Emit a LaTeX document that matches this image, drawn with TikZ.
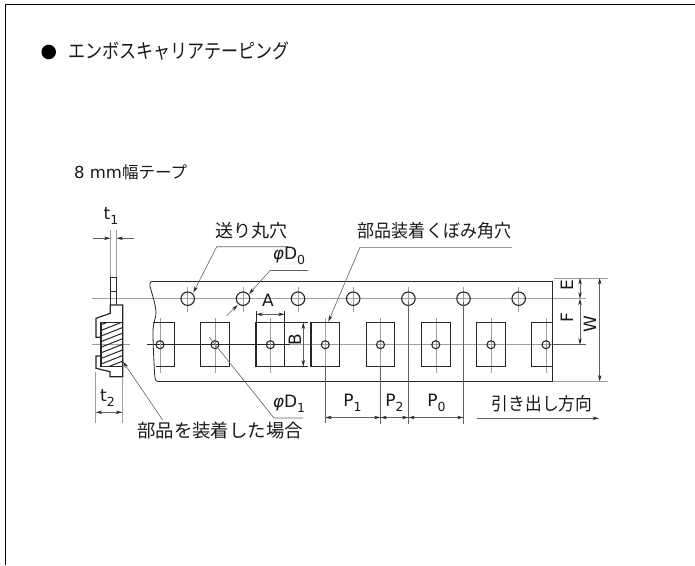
\documentclass[tikz,border=0pt]{standalone}
\usepackage{fontspec}
\setmainfont{DejaVu Sans}
\newfontfamily\cjk{Noto Sans CJK JP}
\usetikzlibrary{arrows.meta}
\definecolor{grayline}{gray}{0.62}
\definecolor{leader}{gray}{0.38}
\tikzset{
  x=1pt,y=-1pt,
  outline/.style={line width=1.2pt,draw=black!85},
  thinblack/.style={line width=0.8pt,draw=black!85},
  cline/.style={line width=0.9pt,draw=grayline},
  vline/.style={line width=0.6pt,draw=grayline},
  lead/.style={line width=0.6pt,draw=leader},
  leadarrow/.style={lead,-{Stealth[length=6.5pt,width=3.4pt,color=black!85]}},
  dim/.style={line width=0.6pt,draw=leader,{Stealth[length=6.5pt,width=3.4pt,color=black!85]}-{Stealth[length=6.5pt,width=3.4pt,color=black!85]}},
  dimone/.style={line width=0.6pt,draw=leader,-{Stealth[length=6.5pt,width=3.4pt,color=black!85]}},
  jp/.style={inner sep=0pt,font=\fontsize{#1}{#1}\selectfont\cjk,text=black!90},
  jp/.default=17,
  sym/.style={inner sep=0pt,font=\fontsize{17}{17}\selectfont,text=black!90},
  hole/.style={circle,draw=black!85,line width=1.1pt,minimum size=#1,inner sep=0pt,fill=none}
}
\newcommand{\sbs}[2]{#1\raisebox{-0.32em}{\fontsize{12.5}{12.5}\selectfont #2}}
\begin{document}
\begin{tikzpicture}
\useasboundingbox (0,0) rectangle (695,565);
\draw[line width=1.2pt,black] (5.3,565) -- (5.3,4.3) -- (695,4.3);

\node[inner sep=0pt,minimum size=14.6pt,circle,fill=black] (bullet) at (48.7,52) {};
\node[jp=20,anchor=west,xscale=0.85] (title) at (68.5,51) {エンボスキャリアテーピング};
\node[anchor=west,inner sep=0pt,font=\fontsize{16.5}{16.5}\selectfont,text=black!90] (sub) at (74,172) {8 mm{\cjk 幅テープ}};

% centre lines
\coordinate (cl1) at (91.5,298.7); \coordinate (cr1) at (585.7,298.7);
\draw[cline] (cl1) -- (cr1);
\coordinate (cl2) at (92,344.7); \coordinate (cl2e) at (130,344.7);
\draw[cline] (cl2) -- (cl2e);
\coordinate (cl3) at (146.7,344.7); \coordinate (cl3m) at (290,344.7); \coordinate (cl3n) at (552,344.7); \coordinate (cr3) at (585.7,344.7);
\draw[thinblack] (cl3) -- (cl3m);
\draw[cline] (cl3m) -- (cl3n);
\draw[thinblack,draw=black!65] (cl3n) -- (cr3);

% tape
\draw[outline] (552.5,281.5) -- (152,281.5);
\draw[outline] (552.5,281.5) -- (552.5,381.5) -- (158,381.5);
\draw[thinblack] (152,281.5) .. controls (149.5,281.5) and (149.5,285) .. (150.5,288)
  .. controls (152,294) and (155.5,304) .. (156,312)
  .. controls (156.3,318) and (153,322) .. (153,332)
  .. controls (153,345) and (154,362) .. (154.5,372)
  .. controls (154.8,378) and (155,381.5) .. (158,381.5);

% pockets and holes
\foreach \n/\c in {1/160,2/215,3/270.3,4/325.3,5/380.5,6/435.8,7/491,8/546}{
  \draw[vline] (\c,318) -- (\c,373);
  \node[hole=8pt] (h\n) at (\c,344.7) {};
}
\foreach \c in {215,270.3,325.3,380.5,435.8,491}{
  \draw[outline] (\c-14.3,322.5) rectangle (\c+14.3,366.5);
}
\draw[outline] (153,322.5) -- (174.3,322.5) -- (174.3,366.5) -- (156,366.5);
\draw[outline] (552.5,322.5) -- (531.7,322.5) -- (531.7,366.5) -- (552.5,366.5);
\foreach \n/\c in {1/187.7,2/243,3/298,4/353.2,5/408.4,6/463.5,7/518.7}{
  \draw[vline] (\c,287) -- (\c,312);
  \node[hole=13.5pt] (s\n) at (\c,298.7) {};
}

% side view
\begin{scope}
\clip (101,322.5) rectangle (123,366.5);
\foreach \i in {0,...,10}{
  \draw[line width=1pt,black!85] (98,326+\i*5.6) -- (126,315+\i*5.6);
}
\end{scope}
\draw[outline] (110.3,305) -- (110.3,277.3) -- (116.3,277.3) -- (116.3,305);
\draw[thinblack] (110.3,291.7) -- (116.3,291.7);
\draw[outline] (101,337.3) -- (96,337.3) -- (96,318.3) -- (110.3,313.3) -- (110.3,305) -- (122.7,305) -- (122.7,376.7) -- (110,376.7) -- (110,371.7) -- (96,368.3) -- (96,356) -- (101,356);
\draw[line width=1.4pt,black!85] (101,322.5) rectangle (122.7,366.5);

% t1, t2
\draw[vline] (110.5,230) -- (110.5,277);
\draw[vline] (116.5,230) -- (116.5,277);
\coordinate (t1a) at (93,238.3); \coordinate (t1b) at (110.5,238.3);
\coordinate (t1c) at (134,238.3); \coordinate (t1d) at (116.5,238.3);
\draw[dimone] (t1a) -- (t1b);
\draw[dimone] (t1c) -- (t1d);
\node[sym] (t1) at (111,216) {\sbs{t}{1}};
\draw[vline] (95.7,372) -- (95.7,423);
\draw[vline] (122.3,378) -- (122.3,423);
\coordinate (t2a) at (95.7,412.3); \coordinate (t2b) at (122.3,412.3);
\draw[dim] (t2a) -- (t2b);
\node[sym] (t2) at (107.5,398) {\sbs{t}{2}};

% labels / leaders
\node[jp=18] (okuri) at (251.5,231) {送り丸穴};
\coordinate (ok1) at (288,246.7); \coordinate (ok2) at (216.7,246.7); \coordinate (ok3) at (193.3,292.7);
\draw[leadarrow] (ok1) -- (ok2) -- (ok3);

\node[sym] (d0) at (289,256) {\sbs{\textit{φ}D}{0}};
\coordinate (d01) at (308,270.5); \coordinate (d02) at (270,270.5); \coordinate (d03) at (249,294);
\draw[leadarrow] (d01) -- (d02) -- (d03);
\coordinate (d04) at (226.7,315.7); \coordinate (d05) at (237.7,305);
\draw[dimone] (d04) -- (d05);

\node[jp=18,xscale=0.945] (buhin) at (434.5,231) {部品装着くぼみ角穴};
\coordinate (bu1) at (512,247.3); \coordinate (bu2) at (360,247.3); \coordinate (bu3) at (328.3,321.7);
\draw[leadarrow] (bu1) -- (bu2) -- (bu3);

\node[sym] (d1) at (289,404) {\sbs{\textit{φ}D}{1}};
\coordinate (d11) at (303,418); \coordinate (d12) at (274,418); \coordinate (d13) at (209.3,337.3);
\draw[lead] (d11) -- (d12) -- (d13);

\node[jp=18.4] (mounted) at (220,431) {部品を装着した場合};
\coordinate (m1) at (162.7,420); \coordinate (m2) at (123,361.7);
\draw[leadarrow] (m1) -- (m2);

% A, B
\draw[thinblack] (256.2,311) -- (256.2,322);
\draw[thinblack] (284.6,311) -- (284.6,322);
\coordinate (a1) at (256.2,314.3); \coordinate (a2) at (284.6,314.3);
\draw[dim] (a1) -- (a2);
\node[sym] (A) at (268,300) {A};
\draw[thinblack] (284.6,322.5) -- (308,322.5);
\draw[thinblack] (284.6,366.5) -- (308,366.5);
\coordinate (b1) at (303.3,322.5); \coordinate (b2) at (303.3,366.5);
\draw[dim] (b1) -- (b2);
\node[sym,rotate=90] (B) at (295,340) {B};

% P
\draw[lead] (325.3,366) -- (325.3,423);
\draw[lead] (380.5,366) -- (380.5,424);
\draw[lead] (408.4,302) -- (408.4,424);
\draw[lead] (463.5,302) -- (463.5,424);
\coordinate (p1) at (325.3,417.5); \coordinate (p2) at (380.5,417.5); \coordinate (p3) at (408.4,417.5); \coordinate (p4) at (463.5,417.5);
\draw[dim] (p1) -- (p2);
\draw[dim] (p2) -- (p3);
\draw[dim] (p3) -- (p4);
\node[sym] (P1) at (352.5,403) {\sbs{P}{1}};
\node[sym] (P2) at (394.5,403) {\sbs{P}{2}};
\node[sym] (P0) at (436.5,403) {\sbs{P}{0}};

% E F W
\draw[vline] (554,278) -- (607.7,278);
\draw[vline] (553,381.5) -- (607.7,381.5);
\coordinate (e1) at (580,278); \coordinate (e2) at (580,298.7); \coordinate (e3) at (580,344.7);
\draw[dim] (e1) -- (e2);
\draw[dim] (e2) -- (e3);
\coordinate (w1) at (599.7,278); \coordinate (w2) at (599.7,381.5);
\draw[dim] (w1) -- (w2);
\node[sym,rotate=90] (E) at (567,284.7) {E};
\node[sym,rotate=90] (F) at (567,317.5) {F};
\node[sym,rotate=90] (W) at (590,324) {W};

% direction
\node[jp=18,xscale=0.93] (dir) at (542,404) {引き出し方向};
\coordinate (d1a) at (476.7,418.3); \coordinate (d1b) at (599,418.3);
\draw[dimone] (d1a) -- (d1b);
\end{tikzpicture}
\end{document}
